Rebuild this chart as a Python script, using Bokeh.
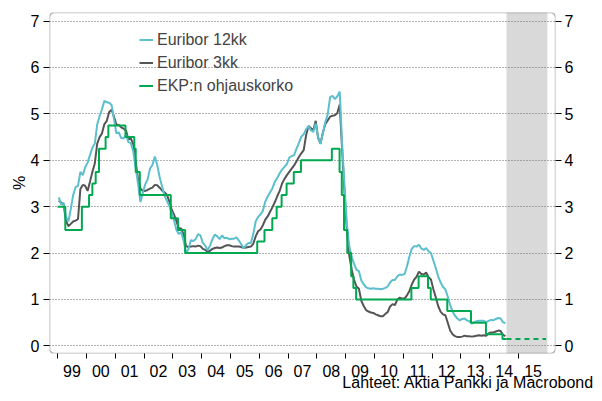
import pandas as pd
from bokeh.plotting import figure
from bokeh.models import (Range1d, LinearAxis, FixedTicker, BoxAnnotation,
                          Legend, LegendItem)
from bokeh.embed import file_html
from bokeh.resources import INLINE

# ---------------- data (monthly, Jan 1999 -> Jul 2014) ----------------
start_year = 1999
euribor_12kk = [
    3.20, 3.05, 3.08, 2.78, 2.68, 2.95, 3.25, 3.42, 3.45, 3.75, 3.68, 3.85,  # 1999
    3.95, 4.11, 4.27, 4.36, 4.77, 4.95, 5.10, 5.28, 5.25, 5.24, 5.19, 4.88,  # 2000
    4.58, 4.60, 4.48, 4.47, 4.55, 4.39, 4.37, 4.20, 3.85, 3.50, 3.10, 3.30,  # 2001
    3.48, 3.59, 3.82, 3.90, 4.08, 3.90, 3.64, 3.44, 3.24, 3.13, 3.02, 2.87,  # 2002
    2.71, 2.50, 2.41, 2.45, 2.26, 2.01, 2.08, 2.28, 2.26, 2.30, 2.41, 2.38,  # 2003
    2.22, 2.16, 2.06, 2.16, 2.30, 2.40, 2.36, 2.30, 2.38, 2.32, 2.33, 2.30,  # 2004
    2.31, 2.31, 2.34, 2.27, 2.19, 2.10, 2.17, 2.22, 2.22, 2.41, 2.68, 2.78,  # 2005
    2.83, 2.91, 3.11, 3.22, 3.31, 3.40, 3.54, 3.62, 3.72, 3.80, 3.86, 3.92,  # 2006
    4.06, 4.09, 4.11, 4.25, 4.37, 4.51, 4.56, 4.67, 4.73, 4.65, 4.61, 4.79,  # 2007
    4.50, 4.35, 4.59, 4.82, 4.99, 5.36, 5.39, 5.32, 5.38, 5.48, 4.35, 3.45,  # 2008
    2.62, 2.14, 1.91, 1.77, 1.64, 1.61, 1.41, 1.33, 1.26, 1.24, 1.23, 1.24,  # 2009
    1.23, 1.23, 1.22, 1.23, 1.25, 1.28, 1.37, 1.42, 1.42, 1.50, 1.54, 1.53,  # 2010
    1.55, 1.71, 1.92, 2.09, 2.15, 2.14, 2.18, 2.10, 2.07, 2.11, 2.04, 2.00,  # 2011
    1.84, 1.68, 1.50, 1.37, 1.27, 1.22, 1.06, 0.88, 0.74, 0.65, 0.59, 0.55,  # 2012
    0.58, 0.59, 0.55, 0.53, 0.48, 0.51, 0.53, 0.54, 0.54, 0.54, 0.51, 0.54,  # 2013
    0.56, 0.55, 0.58, 0.60, 0.59, 0.51, 0.49,                                # 2014
]
euribor_3kk = [
    3.13, 3.09, 3.05, 2.70, 2.58, 2.63, 2.68, 2.70, 2.73, 3.38, 3.47, 3.45,  # 1999
    3.34, 3.54, 3.75, 3.93, 4.36, 4.50, 4.58, 4.78, 4.85, 5.04, 5.09, 4.94,  # 2000
    4.77, 4.76, 4.71, 4.68, 4.64, 4.45, 4.47, 4.35, 3.98, 3.60, 3.39, 3.34,  # 2001
    3.34, 3.36, 3.39, 3.41, 3.47, 3.46, 3.41, 3.35, 3.31, 3.26, 3.12, 2.94,  # 2002
    2.83, 2.69, 2.53, 2.53, 2.40, 2.15, 2.13, 2.14, 2.15, 2.14, 2.16, 2.15,  # 2003
    2.09, 2.07, 2.03, 2.05, 2.09, 2.11, 2.12, 2.11, 2.12, 2.15, 2.17, 2.17,  # 2004
    2.15, 2.14, 2.14, 2.14, 2.13, 2.11, 2.12, 2.13, 2.14, 2.20, 2.36, 2.47,  # 2005
    2.51, 2.60, 2.72, 2.79, 2.89, 2.99, 3.10, 3.23, 3.34, 3.50, 3.60, 3.68,  # 2006
    3.75, 3.82, 3.89, 3.98, 4.07, 4.15, 4.22, 4.54, 4.74, 4.69, 4.64, 4.85,  # 2007
    4.48, 4.36, 4.60, 4.78, 4.86, 4.94, 4.96, 4.97, 5.02, 5.20, 4.24, 3.29,  # 2008
    2.46, 1.94, 1.64, 1.42, 1.28, 1.23, 0.97, 0.86, 0.77, 0.74, 0.72, 0.71,  # 2009
    0.68, 0.66, 0.64, 0.64, 0.69, 0.73, 0.85, 0.90, 0.88, 1.00, 1.04, 1.02,  # 2010
    1.02, 1.09, 1.18, 1.32, 1.43, 1.49, 1.60, 1.55, 1.54, 1.58, 1.48, 1.43,  # 2011
    1.22, 1.05, 0.86, 0.74, 0.68, 0.66, 0.50, 0.33, 0.25, 0.21, 0.19, 0.19,  # 2012
    0.20, 0.22, 0.21, 0.21, 0.20, 0.21, 0.22, 0.23, 0.22, 0.23, 0.22, 0.27,  # 2013
    0.29, 0.29, 0.31, 0.33, 0.32, 0.24, 0.21,                                # 2014
]
ekp_dates = [
    "1999-01-01", "1999-04-09", "1999-11-05", "2000-02-04", "2000-03-17",
    "2000-04-28", "2000-06-09", "2000-09-01", "2000-10-06", "2001-05-11",
    "2001-08-31", "2001-09-18", "2001-11-09", "2002-12-06", "2003-03-07",
    "2003-06-06", "2005-12-06", "2006-03-08", "2006-06-15", "2006-08-09",
    "2006-10-11", "2006-12-13", "2007-03-14", "2007-06-13", "2008-07-09",
    "2008-10-15", "2008-11-12", "2008-12-10", "2009-01-21", "2009-03-11",
    "2009-04-08", "2009-05-13", "2011-04-13", "2011-07-13", "2011-11-09",
    "2011-12-14", "2012-07-11", "2013-05-08", "2013-11-13", "2014-06-11",
    "2014-07-31",
]
ekp_rates = [
    3.00, 2.50, 3.00, 3.25, 3.50, 3.75, 4.25, 4.50, 4.75, 4.50,
    4.25, 3.75, 3.25, 2.75, 2.50, 2.00, 2.25, 2.50, 2.75, 3.00,
    3.25, 3.50, 3.75, 4.00, 4.25, 3.75, 3.25, 2.50, 2.00, 1.50,
    1.25, 1.00, 1.25, 1.50, 1.25, 1.00, 0.75, 0.50, 0.25, 0.15,
    0.15,
]
ekp_forecast_dates = ["2014-07-31", "2015-12-15"]
ekp_forecast_rates = [0.15, 0.15]
forecast_period = ["2014-08-01", "2016-01-01"]
year_ticks = list(range(1999, 2016))
year_labels = ["99", "00", "01", "02", "03", "04", "05", "06", "07", "08",
               "09", "10", "11", "12", "13", "14", "15"]
y_ticks = [0, 1, 2, 3, 4, 5, 6, 7]
source_text = "Lähteet: Aktia Pankki ja Macrobond"


def dec_year(d):
    ts = pd.Timestamp(d)
    days = 366 if ts.is_leap_year else 365
    return ts.year + (ts.dayofyear - 1) / days


month_x = [start_year + (i + 0.5) / 12 for i in range(len(euribor_12kk))]
ekp_x = [dec_year(d) for d in ekp_dates]
ekp_fx = [dec_year(d) for d in ekp_forecast_dates]

FONT = "Liberation Sans"
C12 = "#5bbfcd"
C3 = "#555555"
CEKP = "#00a850"
X0, X1 = 1998.72, 2016.28
Y0, Y1 = -0.164, 7.185

p = figure(width=594, height=393, output_backend="svg", toolbar_location=None,
           x_range=Range1d(X0, X1), y_range=Range1d(Y0, Y1),
           min_border_left=49, min_border_right=39, min_border_top=12,
           min_border_bottom=40, x_axis_location=None, y_axis_location=None)
p.outline_line_color = None
p.background_fill_color = "white"

# forecast shading
p.add_layout(BoxAnnotation(left=dec_year(forecast_period[0]), right=dec_year(forecast_period[1]),
                           fill_color="#d9d9d9", fill_alpha=1.0, line_color=None,
                           level="image"))

# grid
p.xgrid.visible = False
p.ygrid.ticker = FixedTicker(ticks=y_ticks)
p.ygrid.grid_line_color = "#666666"
p.ygrid.grid_line_dash = "1 2"
p.ygrid.grid_line_width = 1

r3 = p.line(month_x, euribor_3kk, line_color=C3, line_width=2)
r12 = p.line(month_x, euribor_12kk, line_color=C12, line_width=2)
rekp = p.step(ekp_x, ekp_rates, mode="after", line_color=CEKP, line_width=2)
rekpf = p.line(ekp_fx, ekp_forecast_rates, line_color=CEKP, line_width=2, line_dash="5 4")


def style_axis(ax):
    ax.axis_line_color = None
    ax.major_label_text_font = FONT
    ax.major_label_text_font_size = "16px"
    ax.major_label_text_color = "black"
    ax.major_tick_line_color = "black"
    ax.minor_tick_line_color = "black"


# bottom axis: labels mid-year, minor ticks at year boundaries
xa = LinearAxis(ticker=FixedTicker(ticks=[y + 0.5 for y in year_ticks], minor_ticks=year_ticks))
style_axis(xa)
xa.major_tick_out = 0
xa.major_tick_in = 0
xa.minor_tick_out = 5
xa.minor_tick_in = 0
xa.major_label_standoff = 6
xa.major_label_overrides = {y + 0.5: lab for y, lab in zip(year_ticks, year_labels)}
p.add_layout(xa, "below")

# source line, drawn as the single label of a tick-less second bottom axis
source_pos = 2013.25
xs = LinearAxis(ticker=FixedTicker(ticks=[source_pos], minor_ticks=[]))
style_axis(xs)
xs.major_tick_line_color = None
xs.minor_tick_line_color = None
xs.major_tick_out = 0
xs.major_tick_in = 0
xs.major_label_standoff = -6
xs.major_label_overrides = {source_pos: source_text}
p.add_layout(xs, "below")

ya = LinearAxis(ticker=FixedTicker(ticks=y_ticks), axis_label="%")
style_axis(ya)
ya.major_tick_out = 6
ya.major_tick_in = 0
ya.minor_tick_line_color = None
ya.major_label_standoff = 4
ya.axis_label_standoff = 0
ya.axis_label_text_font = FONT
ya.axis_label_text_font_size = "16px"
ya.axis_label_text_font_style = "normal"
ya.axis_label_text_color = "black"
p.add_layout(ya, "left")

ya2 = LinearAxis(ticker=FixedTicker(ticks=y_ticks))
style_axis(ya2)
ya2.major_tick_out = 6
ya2.major_tick_in = 0
ya2.minor_tick_line_color = None
ya2.major_label_standoff = 3
p.add_layout(ya2, "right")

# frame with rounded corners
p.add_layout(BoxAnnotation(left=X0, right=X1, bottom=Y0, top=Y1,
                           fill_alpha=0, line_color="black", line_width=1.5,
                           border_radius=5, level="overlay"))

legend = Legend(items=[LegendItem(label="Euribor 12kk", renderers=[r12]),
                       LegendItem(label="Euribor 3kk", renderers=[r3]),
                       LegendItem(label="EKP:n ohjauskorko", renderers=[rekp, rekpf])],
                location=(90, 257), padding=0, margin=0, spacing=2,
                glyph_width=14, glyph_height=21, label_height=21, label_standoff=4,
                label_text_font=FONT, label_text_font_size="16px",
                border_line_color=None, background_fill_alpha=0)
p.add_layout(legend)

open("out.html", "w").write(file_html(p, INLINE))
